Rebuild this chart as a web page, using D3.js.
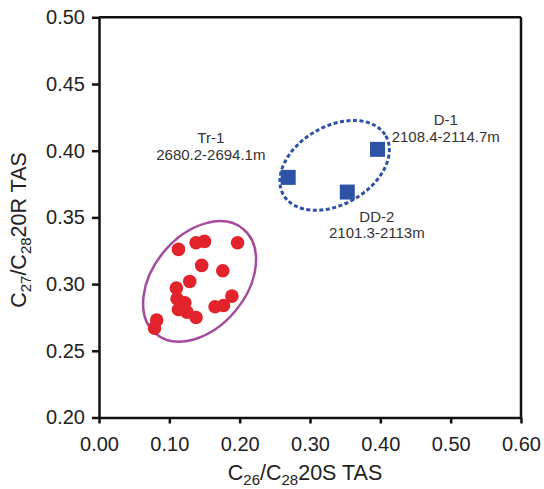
<!DOCTYPE html>
<meta charset="utf-8">
<script src="https://d3js.org/d3.v7.min.js"></script>
<style type="text/css">
body { margin: 0; background: #fff; }
svg { font-family: "Liberation Sans", Arial, sans-serif; }
.axis text { font-size: 20px; fill: #222; }
.axis line, .axis path { stroke: #111; stroke-width: 2.5px; }
.frame { stroke: #111; stroke-width: 2.5px; }
.title { font-size: 21.5px; fill: #222; }
.note { font-size: 15px; fill: #333; }
</style>
<body></body>
<script>

// Tr-1 samples (red dots)
var trX = [0.113, 0.138, 0.150, 0.197, 0.146, 0.176, 0.129, 0.110, 0.111, 0.122,
           0.113, 0.125, 0.138, 0.165, 0.177, 0.189, 0.082, 0.079];
var trY = [0.326, 0.331, 0.332, 0.331, 0.314, 0.310, 0.302, 0.297, 0.289, 0.286,
           0.281, 0.279, 0.275, 0.283, 0.284, 0.291, 0.273, 0.267];

// D-1, Tr-1 and DD-2 averages (blue squares)
var wellNames = ["D-1", "Tr-1", "DD-2"];
var wellX = [0.396, 0.269, 0.353];
var wellY = [0.401, 0.380, 0.369];

// notes next to the squares
var noteLine1 = ["Tr-1", "D-1", "DD-2"];
var noteLine2 = ["2680.2-2694.1m", "2108.4-2114.7m", "2101.3-2113m"];
var noteX = [0.159, 0.493, 0.395];
var noteY = [0.4056, 0.4193, 0.3468];

// enclosing ellipses: centre, semi axes (x units), tilt in degrees
var ellipseCx = [0.143, 0.335];
var ellipseCy = [0.302, 0.389];
var ellipseA = [0.097, 0.084];
var ellipseB = [0.066, 0.0555];
var ellipseTilt = [-50, -30];

var xTicks = [0, 0.1, 0.2, 0.3, 0.4, 0.5, 0.6];
var yTicks = [0.20, 0.25, 0.30, 0.35, 0.40, 0.45, 0.50];

var width = 544, height = 489;
var margin = {top: 17.3, right: 23, bottom: 71.5, left: 99};

var svg = d3.select("body").append("svg")
    .attr("width", width)
    .attr("height", height);

var x = d3.scaleLinear()
    .domain([0, 0.6])
    .range([margin.left, width - margin.right]);

var y = d3.scaleLinear()
    .domain([0.2, 0.5])
    .range([height - margin.bottom, margin.top]);

// frame top and right
svg.append("line").attr("class", "frame")
    .attr("x1", x(0)).attr("x2", x(0.6))
    .attr("y1", y(0.5)).attr("y2", y(0.5));
svg.append("line").attr("class", "frame")
    .attr("x1", x(0.6)).attr("x2", x(0.6))
    .attr("y1", y(0.5)).attr("y2", y(0.2));

svg.append("g")
    .attr("class", "x axis")
    .attr("transform", "translate(0," + y(0.2) + ")")
    .call(d3.axisBottom(x).tickValues(xTicks).tickFormat(d3.format(".2f"))
      .tickSize(6).tickSizeOuter(0).tickPadding(13.5));

svg.append("g")
    .attr("class", "y axis")
    .attr("transform", "translate(" + x(0) + ",0)")
    .call(d3.axisLeft(y).tickValues(yTicks).tickFormat(d3.format(".2f"))
      .tickSize(7).tickSizeOuter(0).tickPadding(7));

// axis titles with subscripts
var xt = svg.append("text").attr("class", "title")
    .attr("x", 305).attr("y", 480).attr("text-anchor", "middle");
xt.append("tspan").text("C");
xt.append("tspan").attr("font-size", "15px").attr("dy", 5).text("26");
xt.append("tspan").attr("dy", -5).text("/C");
xt.append("tspan").attr("font-size", "15px").attr("dy", 5).text("28");
xt.append("tspan").attr("dy", -5).text("20S TAS");

var yt = svg.append("text").attr("class", "title")
    .attr("transform", "translate(26,230) rotate(-90)")
    .attr("text-anchor", "middle");
yt.append("tspan").text("C");
yt.append("tspan").attr("font-size", "15px").attr("dy", 5).text("27");
yt.append("tspan").attr("dy", -5).text("/C");
yt.append("tspan").attr("font-size", "15px").attr("dy", 5).text("28");
yt.append("tspan").attr("dy", -5).text("20R TAS");

// ellipses
var ellColors = ["#a54a9f", "#2d52a6"];
svg.selectAll(".ring")
    .data(ellipseCx).enter().append("ellipse")
    .attr("class", "ring")
    .attr("transform", function(d, i) {
      return "translate(" + x(d) + "," + y(ellipseCy[i]) + ") rotate(" + ellipseTilt[i] + ")";
    })
    .attr("rx", function(d, i) { return x(ellipseA[i]) - x(0); })
    .attr("ry", function(d, i) { return x(ellipseB[i]) - x(0); })
    .style("fill", "none")
    .style("stroke", function(d, i) { return ellColors[i]; })
    .style("stroke-width", function(d, i) { return i == 0 ? 2.5 : 3; })
    .style("stroke-dasharray", function(d, i) { return i == 0 ? null : "4 2.5"; });

// red dots
svg.selectAll(".dot")
    .data(trX).enter().append("circle")
    .attr("class", "dot")
    .attr("cx", function(d) { return x(d); })
    .attr("cy", function(d, i) { return y(trY[i]); })
    .attr("r", 6.8)
    .style("fill", "#e3232b");

// blue squares
var sq = 15;
svg.selectAll(".well")
    .data(wellX).enter().append("rect")
    .attr("class", "well")
    .attr("x", function(d) { return x(d) - sq / 2; })
    .attr("y", function(d, i) { return y(wellY[i]) - sq / 2; })
    .attr("width", sq).attr("height", sq)
    .style("fill", "#2d52a6");

// notes
var notes = svg.selectAll(".note")
    .data(noteLine1).enter().append("text")
    .attr("class", "note")
    .attr("text-anchor", "middle")
    .attr("transform", function(d, i) { return "translate(" + x(noteX[i]) + "," + y(noteY[i]) + ")"; });
notes.append("tspan").attr("x", 0).text(function(d) { return d; });
notes.append("tspan").attr("x", 0).attr("dy", 16.7).text(function(d, i) { return noteLine2[i]; });

</script>
